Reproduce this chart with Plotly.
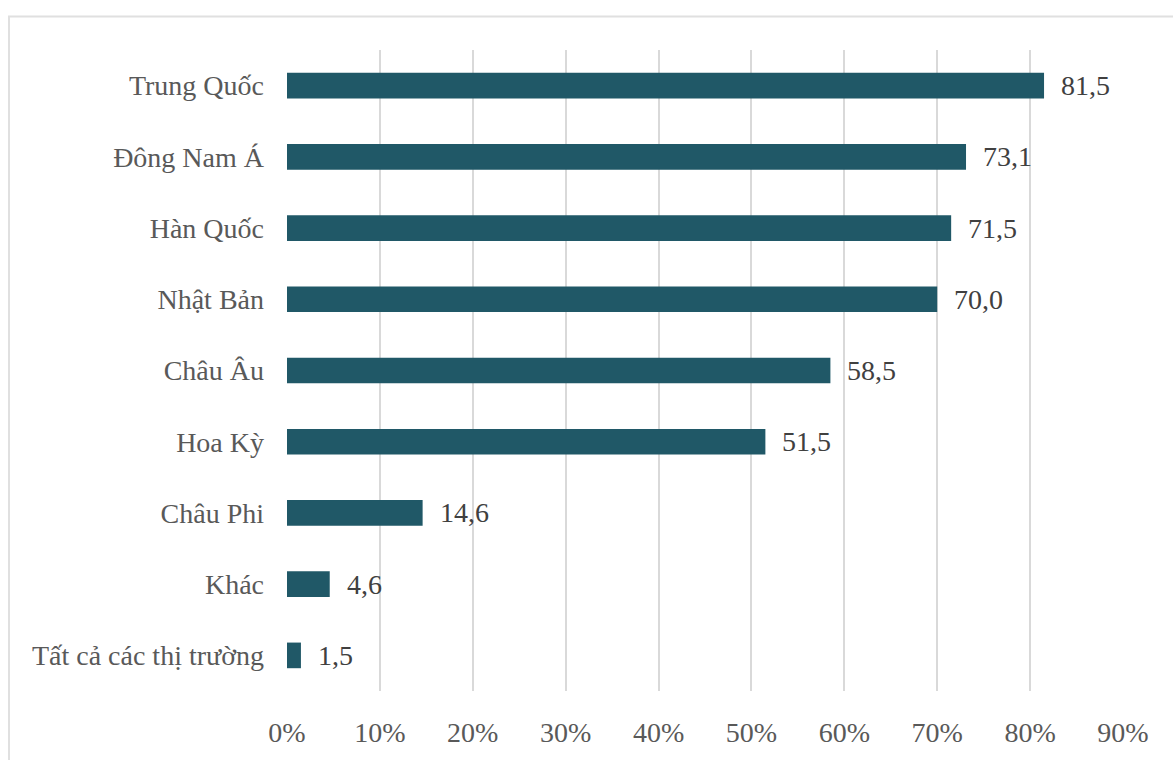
import plotly.graph_objects as go

# Thị trường và tỷ lệ (%)
markets = [
    "Tất cả các thị trường",
    "Khác",
    "Châu Phi",
    "Hoa Kỳ",
    "Châu Âu",
    "Nhật Bản",
    "Hàn Quốc",
    "Đông Nam Á",
    "Trung Quốc",
]
shares = [1.5, 4.6, 14.6, 51.5, 58.5, 70.0, 71.5, 73.1, 81.5]
value_labels = ["1,5", "4,6", "14,6", "51,5", "58,5", "70,0", "71,5", "73,1", "81,5"]

tick_vals = [0, 10, 20, 30, 40, 50, 60, 70, 80, 90]
tick_text = ["0%", "10%", "20%", "30%", "40%", "50%", "60%", "70%", "80%", "90%"]

W, H = 1173, 760
ML, MR, MT, MB = 287, 50, 50, 60
FONT = "Liberation Serif, Times New Roman, serif"
FS = 28

fig = go.Figure(
    go.Bar(
        x=shares,
        y=markets,
        orientation="h",
        width=0.36,
        marker=dict(color="#205867", line=dict(width=0)),
        hoverinfo="skip",
    )
)

# value labels to the right of each bar
for m, v, lab in zip(markets, shares, value_labels):
    fig.add_annotation(
        x=v, y=m, text=lab,
        xanchor="left", yanchor="middle",
        xshift=15, showarrow=False,
        font=dict(family=FONT, size=FS, color="#404040"),
    )

pw = W - ML - MR
ph = H - MT - MB
# light frame around the chart area
fig.add_shape(
    type="rect",
    xref="paper", yref="paper",
    x0=(9 - ML) / pw, x1=(W + 20 - ML) / pw,
    y0=-(H + 20 - MT - ph) / ph, y1=1 + (MT - 16) / ph,
    line=dict(color="#e0e0e0", width=2),
    fillcolor="rgba(0,0,0,0)",
    layer="below",
)

fig.update_layout(
    width=W,
    height=H,
    margin=dict(l=ML, r=MR, t=MT, b=MB),
    paper_bgcolor="white",
    plot_bgcolor="white",
    showlegend=False,
    font=dict(family=FONT, size=FS, color="#595959"),
)
fig.update_xaxes(
    range=[0, 90],
    tickvals=tick_vals,
    ticktext=tick_text,
    showgrid=True,
    gridcolor="#d9d9d9",
    gridwidth=2,
    zeroline=False,
    showline=False,
    ticks="",
    ticklabelstandoff=22,
    tickfont=dict(family=FONT, size=FS, color="#595959"),
    fixedrange=True,
)
fig.update_yaxes(
    categoryorder="array",
    categoryarray=markets,
    showgrid=False,
    zeroline=False,
    showline=False,
    ticks="",
    ticklabelstandoff=22,
    tickfont=dict(family=FONT, size=FS, color="#595959"),
    fixedrange=True,
)

fig.write_html("out.html")
